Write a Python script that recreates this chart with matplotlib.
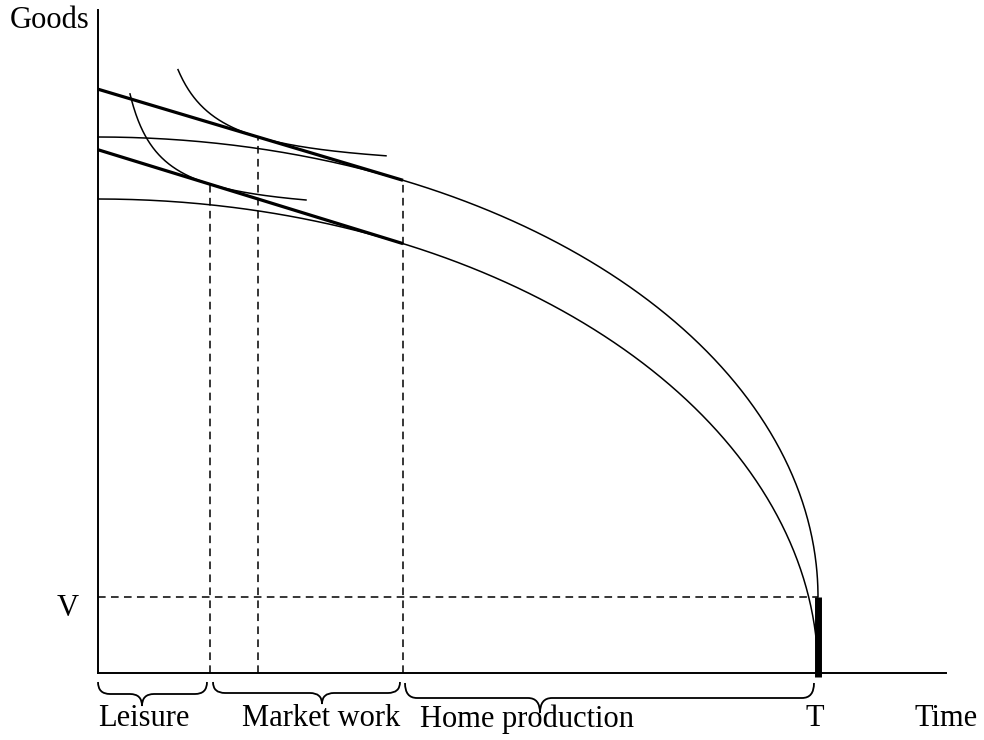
import numpy as np
import matplotlib
matplotlib.use("Agg")
import matplotlib.pyplot as plt
from matplotlib.path import Path
from matplotlib.patches import PathPatch

plt.rcParams['font.family'] = ['Liberation Serif', 'DejaVu Serif']

# diagram values (time on x, goods on y; origin at the axes corner)
T = 720            # total time endowment
V = 76             # non-labour income / goods
x_end, y_end = 848, 663   # axis lengths

# production possibility frontiers: (goods at zero time, floor)
ppf_top = [460, V]     # outer frontier, sits on V
ppf_low = [474, 0]     # inner frontier
x_tan = 305            # tangency of budget lines with frontiers

# indifference curves: tangency x, asymptote x, x-range
ic_top = [160, 36, 80, 288]
ic_low = [112, 2, 32, 208]

# braces under the time axis: x0, x1, tip x, top y, tip y
braces = [[0, 109, 44, -9, -33],
          [115, 302, 224, -9, -31],
          [307, 716, 442, -10, -40]]
labels = ["Leisure", "Market work", "Home production", "T", "Time"]
label_x = [46, 223, 429, 717, 848]


def frontier(b, c, n=400):
    th = np.linspace(0, np.pi / 2, n)
    return T * np.sin(th), c + b * np.cos(th)


def frontier_tangent(b, c, x0):
    u = x0 / T
    y0 = c + b * np.sqrt(1 - u ** 2)
    slope = -(b / T) * u / np.sqrt(1 - u ** 2)
    return y0, slope


def brace_path(x0, x1, xt, yt, yb):
    ym = (yt + yb) / 2
    r = min(12, (x1 - x0) / 6)
    verts = [(x0, yt), (x0, ym), (x0 + r, ym),
             (xt - r, ym),
             (xt, ym), (xt, yb),
             (xt, ym), (xt + r, ym),
             (x1 - r, ym),
             (x1, ym), (x1, yt)]
    codes = [Path.MOVETO, Path.CURVE3, Path.CURVE3,
             Path.LINETO,
             Path.CURVE3, Path.CURVE3,
             Path.CURVE3, Path.CURVE3,
             Path.LINETO,
             Path.CURVE3, Path.CURVE3]
    return Path(verts, codes)


fig = plt.figure(figsize=(9.84, 7.40), dpi=100)
ax = fig.add_axes([0, 0, 1, 1])
ax.set_xlim(-98, 886)
ax.set_ylim(-67, 673)
ax.axis('off')

# axes
ax.plot([0, 0], [0, y_end], color='k', lw=1.4)
ax.plot([0, x_end], [0, 0], color='k', lw=1.4)

# frontiers and budget lines
tan_pts = []
for b, c in [ppf_top, ppf_low]:
    xs, ys = frontier(b, c)
    ax.plot(xs, ys, color='k', lw=1.1)
    y0, s = frontier_tangent(b, c, x_tan)
    xl = np.array([0, x_tan])
    ax.plot(xl, y0 + s * (xl - x_tan), color='k', lw=2.3, solid_capstyle='butt')
    tan_pts.append((y0, s))

# indifference curves, tangent to the budget lines
ic_pts = []
for (xt, xa, xa0, xa1), (y0, s) in zip([ic_top, ic_low], tan_pts):
    yt = y0 + s * (xt - x_tan)
    k = -s * (xt - xa) ** 2
    ya = yt - k / (xt - xa)
    xs = np.linspace(xa0, xa1, 300)
    ax.plot(xs, ya + k / (xs - xa), color='k', lw=1.1)
    ic_pts.append((xt, yt))

# dashed guides
dash = dict(color='k', lw=1.1, ls=(0, (5, 3.5)))
for xt, yt in ic_pts:
    ax.plot([xt, xt], [0, yt], **dash)
ax.plot([x_tan, x_tan], [0, tan_pts[0][0]], **dash)
ax.plot([0, T], [V, V], **dash)

# endowment segment at T
ax.plot([T, T], [-4, V], color='k', lw=5.0, solid_capstyle='butt')

# braces
for x0, x1, xt, yt, yb in braces:
    ax.add_patch(PathPatch(brace_path(x0, x1, xt, yt, yb), fc='none',
                           ec='k', lw=1.3))

for lab, lx in zip(labels, label_x):
    ax.text(lx, -46, lab, fontsize=22, ha='center', va='center')
ax.text(-48, 653, "Goods", fontsize=22, ha='center', va='center')
ax.text(-30, 65, "V", fontsize=22, ha='center', va='center')

fig.savefig("out.png", dpi=100)
